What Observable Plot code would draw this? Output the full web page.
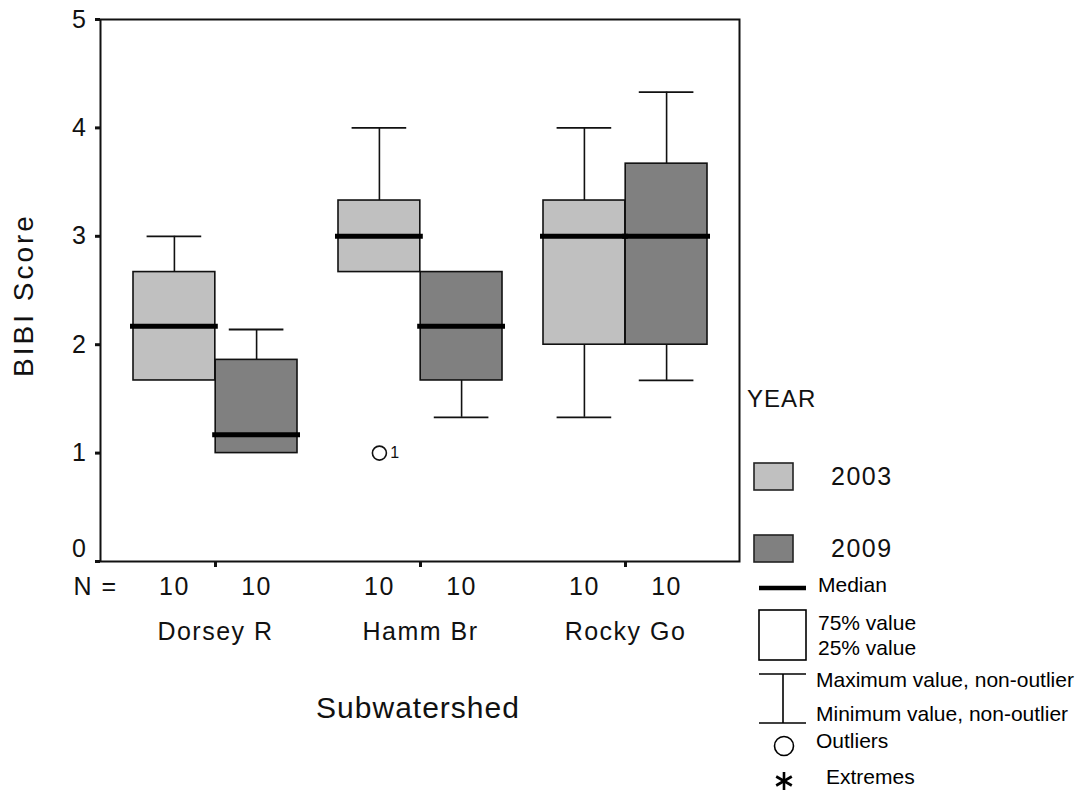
<!DOCTYPE html>
<html>
<head>
<meta charset="utf-8">
<script src="https://cdn.jsdelivr.net/npm/d3@7"></script>
<script src="https://cdn.jsdelivr.net/npm/@observablehq/plot@0.6"></script>
<style>
  html, body { margin: 0; padding: 0; background: #fff; }
  #chart { position: relative; width: 1089px; height: 792px; }
</style>
</head>
<body>
<div id="chart"></div>
<script>
// ---- data ----
const groups = ["Dorsey R", "Hamm Br", "Rocky Go"];
const years = ["2003", "2009"];
const yearColors = ["#c0c0c0", "#808080"];

const boxGroup = ["Dorsey R", "Dorsey R", "Hamm Br", "Hamm Br", "Rocky Go", "Rocky Go"];
const boxYear  = ["2003", "2009", "2003", "2009", "2003", "2009"];
const whiskerLow  = [1.67, 1.00, 2.67, 1.33, 1.33, 1.67];
const quartile1   = [1.67, 1.00, 2.67, 1.67, 2.00, 2.00];
const medians     = [2.17, 1.17, 3.00, 2.17, 3.00, 3.00];
const quartile3   = [2.67, 1.86, 3.33, 2.67, 3.33, 3.67];
const whiskerHigh = [3.00, 2.14, 4.00, 2.67, 4.00, 4.33];
const counts      = [10, 10, 10, 10, 10, 10];

const outlierGroup = ["Hamm Br"];
const outlierYear  = ["2003"];
const outlierValue = [1.0];
const outlierCase  = ["1"];

const yTicks = [0, 1, 2, 3, 4, 5];

// ---- tables ----
const rows = boxGroup.map((g, i) => ({
  group: g, year: boxYear[i], lo: whiskerLow[i], q1: quartile1[i],
  med: medians[i], q3: quartile3[i], hi: whiskerHigh[i], n: counts[i]
}));
const outliers = outlierGroup.map((g, i) => ({group: g, year: outlierYear[i], value: outlierValue[i], label: outlierCase[i]}));

// ---- layout ----
const W = 1089, H = 792;
const mL = 100, mR = 350, mT = 19, mB = 231;
const padIn = 0.2, padOut = 0.155;
const step = (W - mL - mR) / (groups.length - padIn + 2 * padOut);
const bw = step * (1 - padIn);
const half = bw / 2;
const capHalf = 27.5;
const FONT = "'Liberation Sans', Arial, Helvetica, sans-serif";

function yearMarks(year, side) {
  const data = rows.filter(d => d.year === year);
  const dx = side === 0 ? -half / 2 : half / 2;
  const boxInset = side === 0 ? {insetLeft: 0, insetRight: half} : {insetLeft: half, insetRight: 0};
  const center = side === 0 ? half / 2 : half + half / 2;
  const capInset = {insetLeft: center - capHalf, insetRight: bw - center - capHalf};
  return [
    Plot.ruleX(data.filter(d => d.hi > d.q3), {x: "group", y1: "q3", y2: "hi", dx, stroke: "#111", strokeWidth: 1.6}),
    Plot.ruleX(data.filter(d => d.lo < d.q1), {x: "group", y1: "lo", y2: "q1", dx, stroke: "#111", strokeWidth: 1.6}),
    Plot.tickY(data.filter(d => d.hi > d.q3), {x: "group", y: "hi", stroke: "#111", strokeWidth: 1.8, ...capInset}),
    Plot.tickY(data.filter(d => d.lo < d.q1), {x: "group", y: "lo", stroke: "#111", strokeWidth: 1.8, ...capInset}),
    Plot.barY(data, {x: "group", y1: "q1", y2: "q3", fill: "year", stroke: "#111", strokeWidth: 1.6, ...boxInset}),
    Plot.text(data, {x: "group", text: d => String(d.n), frameAnchor: "bottom", dy: 33, dx, fontSize: 25})
  ];
}
function medianMarks(year, side) {
  const data = rows.filter(d => d.year === year);
  const medInset = side === 0 ? {insetLeft: -3, insetRight: half - 3} : {insetLeft: half - 3, insetRight: -3};
  return Plot.tickY(data, {x: "group", y: "med", stroke: "#000", strokeWidth: 5, ...medInset});
}

const svg = Plot.plot({
  width: W, height: H,
  marginLeft: mL, marginRight: mR, marginTop: mT, marginBottom: mB,
  style: {fontFamily: FONT, fontSize: "25px", color: "#111", background: "#fff", overflow: "visible"},
  x: {domain: groups, paddingInner: padIn, paddingOuter: padOut, align: 0.5, tickSize: 6, tickPadding: 55, label: null},
  y: {domain: [0, 5], ticks: yTicks, tickSize: 5, tickPadding: 8, tickFormat: d => String(d), label: null},
  color: {domain: years, range: yearColors},
  marks: [
    ...yearMarks("2003", 0),
    ...yearMarks("2009", 1),
    medianMarks("2003", 0),
    medianMarks("2009", 1),
    Plot.dot(outliers.filter(d => d.year === "2003"), {x: "group", y: "value", dx: -half / 2, r: 7, stroke: "#111", strokeWidth: 1.6, fill: "none"}),
    Plot.text(outliers.filter(d => d.year === "2003"), {x: "group", y: "value", text: "label", dx: -half / 2 + 16, fontSize: 16}),
    Plot.text(["N ="], {frameAnchor: "bottom-left", textAnchor: "end", dx: 17, dy: 33, fontSize: 25}),
    Plot.frame({stroke: "#111", strokeWidth: 2})
  ]
});

document.getElementById("chart").appendChild(svg);

const s = d3.select(svg);
s.style("letter-spacing", "1.5px");
// thicker tick stubs like the original
s.selectAll('g[aria-label^="y-axis"] path, g[aria-label^="y-axis"] line, g[aria-label^="x-axis"] path, g[aria-label^="x-axis"] line')
  .attr("stroke-width", 3);
// the "0" label sits just above the axis in the original
s.selectAll('g[aria-label^="y-axis"] text').filter(function () { return this.textContent.trim() === "0"; })
  .attr("transform", function () { const t = this.getAttribute("transform") || ""; return t + " translate(0,-13)"; });

// axis titles
s.append("text")
  .attr("transform", "translate(23,295) rotate(-90)")
  .attr("text-anchor", "middle").attr("dy", "0.35em")
  .style("font-family", FONT).style("font-size", "28px").style("letter-spacing", "3px")
  .attr("fill", "#111").text("BIBI Score");
s.append("text")
  .attr("x", 418).attr("y", 707).attr("dy", "0.35em")
  .attr("text-anchor", "middle")
  .style("font-family", FONT).style("font-size", "30px").style("letter-spacing", "1px")
  .attr("fill", "#111").text("Subwatershed");

// legend (YEAR)
const lg = s.append("g").style("font-family", FONT).attr("fill", "#111").attr("text-anchor", "start");
lg.append("text").attr("x", 747).attr("y", 399).attr("dy", "0.35em")
  .style("font-size", "24px").style("letter-spacing", "1px").text("YEAR");
years.forEach((y, i) => {
  const cy = [476, 548][i];
  lg.append("rect").attr("x", 754).attr("y", cy - 13).attr("width", 39).attr("height", 27)
    .attr("fill", yearColors[i]).attr("stroke", "#222").attr("stroke-width", 1.6);
  lg.append("text").attr("x", 831).attr("y", cy).attr("dy", "0.35em")
    .style("font-size", "25px").style("letter-spacing", "1.5px").text(y);
});

// legend (box plot key)
const kg = s.append("g").style("font-family", FONT).style("font-size", "21px").style("letter-spacing", "0px")
  .attr("fill", "#000").attr("text-anchor", "start");
kg.append("line").attr("x1", 759).attr("x2", 806).attr("y1", 588).attr("y2", 588).attr("stroke", "#000").attr("stroke-width", 4.5);
kg.append("text").attr("x", 818).attr("y", 585).attr("dy", "0.35em").text("Median");
kg.append("rect").attr("x", 759).attr("y", 610).attr("width", 47).attr("height", 50).attr("fill", "#fff").attr("stroke", "#000").attr("stroke-width", 1.6);
kg.append("text").attr("x", 818).attr("y", 623).attr("dy", "0.35em").text("75% value");
kg.append("text").attr("x", 818).attr("y", 648).attr("dy", "0.35em").text("25% value");
kg.append("line").attr("x1", 759).attr("x2", 806).attr("y1", 674).attr("y2", 674).attr("stroke", "#000").attr("stroke-width", 1.6);
kg.append("line").attr("x1", 759).attr("x2", 806).attr("y1", 723).attr("y2", 723).attr("stroke", "#000").attr("stroke-width", 1.6);
kg.append("line").attr("x1", 783).attr("x2", 783).attr("y1", 674).attr("y2", 723).attr("stroke", "#000").attr("stroke-width", 1.6);
kg.append("text").attr("x", 816).attr("y", 680).attr("dy", "0.35em").text("Maximum value, non-outlier");
kg.append("text").attr("x", 816).attr("y", 714).attr("dy", "0.35em").text("Minimum value, non-outlier");
kg.append("circle").attr("cx", 784).attr("cy", 746).attr("r", 9.5).attr("fill", "#fff").attr("stroke", "#000").attr("stroke-width", 1.6);
kg.append("text").attr("x", 816).attr("y", 741).attr("dy", "0.35em").text("Outliers");
[0, 60, 120].forEach(a => {
  const r = 9, rad = a * Math.PI / 180;
  kg.append("line")
    .attr("x1", 784 - r * Math.sin(rad)).attr("y1", 781 - r * Math.cos(rad))
    .attr("x2", 784 + r * Math.sin(rad)).attr("y2", 781 + r * Math.cos(rad))
    .attr("stroke", "#000").attr("stroke-width", 2.6);
});
kg.append("text").attr("x", 826).attr("y", 777).attr("dy", "0.35em").text("Extremes");
</script>
</body>
</html>
